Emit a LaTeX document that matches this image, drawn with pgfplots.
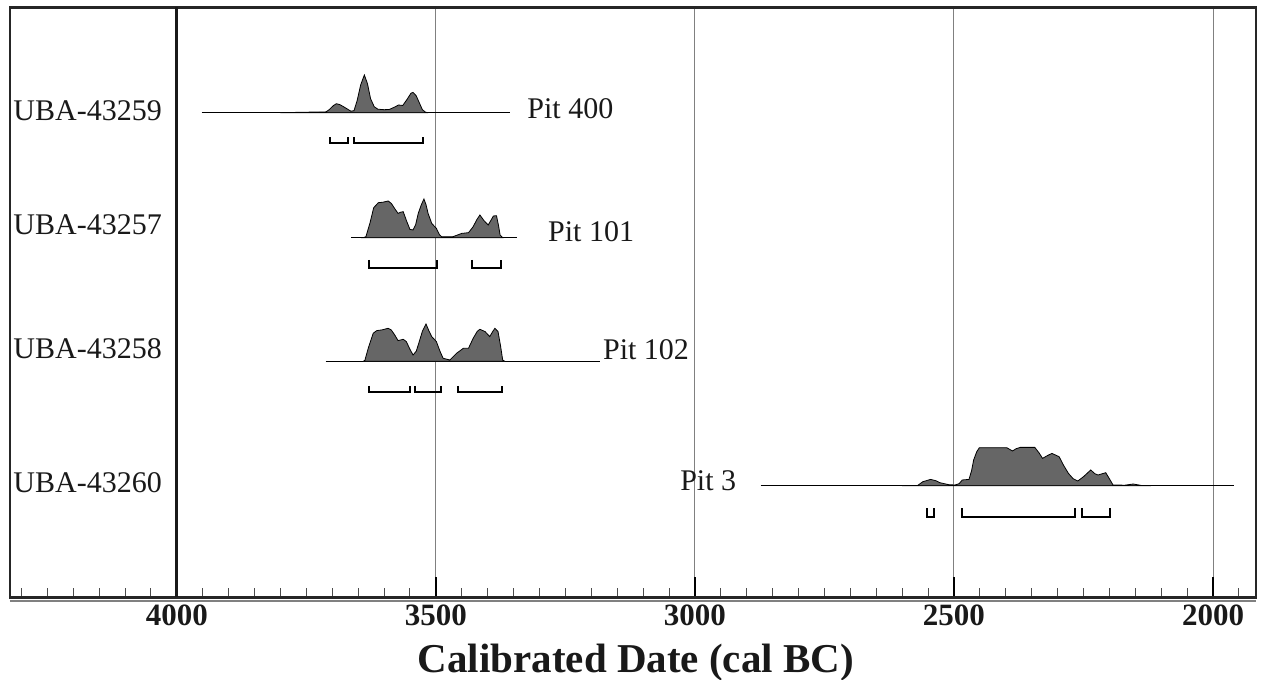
\documentclass[border=0pt]{standalone}
\usepackage{pgfplots}
\pgfplotsset{compat=1.18}
\usepackage{fontspec}
\setmainfont{Liberation Serif}
\definecolor{distgray}{HTML}{666666}
\definecolor{gridgray}{HTML}{808080}
\newcommand{\lab}{\fontsize{15}{16}\selectfont}
\begin{document}
\begin{tikzpicture}
\useasboundingbox (0,0) rectangle (630.5pt,339.5pt);
\begin{axis}[
  at={(5pt,40.75pt)}, anchor=south west,
  width=623pt, height=295pt, scale only axis,
  x dir=reverse, xmin=1917, xmax=4322, ymin=0, ymax=590,
  clip=false,
  ytick=\empty,
  xtick={2000,2500,3000,3500,4000},
  minor xtick={1950,2000,...,4300},
  xtick pos=bottom, tick align=inside,
  major tick length=10pt, minor tick length=4.5pt,
  major tick style={black, line width=0.7pt},
  minor tick style={black!70, line width=0.5pt},
  xmajorgrids, grid style={gridgray, line width=0.5pt},
  axis line style={draw=black!85, line width=1.1pt},
  /pgf/number format/assume math mode=true,
  /pgf/number format/set thousands separator={},
  xticklabel style={font=\bfseries\fontsize{15.5}{16}\selectfont, black!90},
]
% thick 4000 line
\addplot[black!90, line width=1.4pt] coordinates {(4000,0) (4000,590)};
% second bottom line
\addplot[gridgray, line width=0.7pt] coordinates {(4322,-3.5) (1917,-3.5)};

% ---- Row 1: UBA-43259 (baseline 484.8)
\addplot[black, line width=0.65pt] coordinates {(3952,484.8) (3357,484.8)};
\addplot[fill=distgray, draw=black, line width=0.4pt] table[y expr=\thisrow{h}+484.8] {
x h
3800 0
3750 0.5
3712 0.8
3706 3
3698 7
3692 9
3685 8
3675 5
3664 1.5
3658 2
3652 12
3645 28
3638 37.7
3632 29
3626 14
3619 6
3612 3.5
3600 3
3590 3.2
3580 5.5
3572 7.7
3564 7.2
3556 13
3548 19.5
3544 20.3
3538 17
3532 10
3526 3
3520 0.5
3515 0
} -- cycle;
\addplot[black, line width=1pt] coordinates {(3705,460.2) (3705,454.5) (3670,454.5) (3670,460.2)};
\addplot[black, line width=1pt] coordinates {(3658,460.2) (3658,454.5) (3525,454.5) (3525,460.2)};

% ---- Row 2: UBA-43257 (baseline 359.8)
\addplot[black, line width=0.65pt] coordinates {(3663,359.8) (3344,359.8)};
\addplot[fill=distgray, draw=black, line width=0.4pt] table[y expr=\thisrow{h}+359.8] {
x h
3640 0
3635 1
3627 15
3620 30
3611 35
3602 35.5
3592 36.7
3586 34.3
3578 28
3573 24.3
3568 25.5
3563 26
3556 16
3550 8.3
3544 7.7
3539 13
3534 24.3
3528 33
3523 38.7
3519 33
3515 24.3
3508 14.3
3499 9.3
3493 3
3489 1
3467 1
3450 4.3
3437 5
3428 11
3421 18
3415 22.7
3407 17
3399 12.7
3393 18
3389 21.7
3383 22
3379 12
3376 2.7
3371 0
} -- cycle;
\addplot[black, line width=1pt] coordinates {(3629,337.5) (3629,329.2) (3498,329.2) (3498,337.5)};
\addplot[black, line width=1pt] coordinates {(3430,337.5) (3430,329.2) (3375,329.2) (3375,337.5)};

% ---- Row 3: UBA-43258 (baseline 236.2)
\addplot[black, line width=0.65pt] coordinates {(3713,236.2) (3183,236.2)};
\addplot[fill=distgray, draw=black, line width=0.4pt] table[y expr=\thisrow{h}+236.2] {
x h
3640 0
3637 1
3630 14
3621 28
3614 30.7
3605 31.3
3592 33
3586 31.3
3579 26
3573 20.7
3563 22
3557 19.7
3550 12
3544 6.3
3538 10
3534 16.3
3526 30
3519 37.3
3513 30
3508 24.7
3499 19.7
3492 10
3486 3
3473 1.3
3460 8
3447 13
3437 13
3428 23
3420 30
3415 32
3405 29.7
3396 24.7
3390 30
3386 33
3380 29.7
3375 15
3371 1.3
3367 0
} -- cycle;
\addplot[black, line width=1pt] coordinates {(3629,211.5) (3629,205.8) (3549,205.8) (3549,211.5)};
\addplot[black, line width=1pt] coordinates {(3540,211.5) (3540,205.8) (3490,205.8) (3490,211.5)};
\addplot[black, line width=1pt] coordinates {(3458,211.5) (3458,205.8) (3373,205.8) (3373,211.5)};

% ---- Row 4: UBA-43260 (baseline 111.8)
\addplot[black, line width=0.65pt] coordinates {(2873,111.8) (1960,111.8)};
\addplot[fill=distgray, draw=black, line width=0.4pt] table[y expr=\thisrow{h}+111.8] {
x h
2600 0
2570 0.3
2560 4
2545 6.3
2535 5
2527 3
2510 1
2498 0.7
2490 2
2484 5.7
2471 6.3
2466 15
2462 25.7
2456 34
2451 38
2398 38
2387 34.7
2380 37
2372 38.3
2344 38.3
2336 33
2329 27.3
2320 30
2311 32.3
2297 29
2288 20
2279 12.3
2270 7
2261 4.7
2250 9
2236 15.7
2228 12
2222 10.7
2207 13
2200 7
2193 0.7
2170 0.5
2154 1.7
2139 0.3
2120 0
} -- cycle;
\addplot[black, line width=1pt] coordinates {(2552,89.2) (2552,80.8) (2538,80.8) (2538,89.2)};
\addplot[black, line width=1pt] coordinates {(2484,89.2) (2484,80.8) (2267,80.8) (2267,89.2)};
\addplot[black, line width=1pt] coordinates {(2252,89.2) (2252,80.8) (2198,80.8) (2198,89.2)};

% labels
\node[anchor=base west, inner sep=0pt, font=\lab, black!90] at (axis cs:4316,476.8) {UBA-43259};
\node[anchor=base west, inner sep=0pt, font=\lab, black!90] at (axis cs:4316,362.8) {UBA-43257};
\node[anchor=base west, inner sep=0pt, font=\lab, black!90] at (axis cs:4316,239.2) {UBA-43258};
\node[anchor=base west, inner sep=0pt, font=\lab, black!90] at (axis cs:4316,105.2) {UBA-43260};
\node[anchor=base west, inner sep=0pt, font=\lab, black!90] at (axis cs:3324,479.2) {Pit 400};
\node[anchor=base west, inner sep=0pt, font=\lab, black!90] at (axis cs:3284,355.8) {Pit 101};
\node[anchor=base west, inner sep=0pt, font=\lab, black!90] at (axis cs:3178,237.5) {Pit 102};
\node[anchor=base west, inner sep=0pt, font=\lab, black!90] at (axis cs:3029,106.5) {Pit 3};
\node[anchor=base, inner sep=0pt, font=\bfseries\fontsize{20.5}{22}\selectfont, black!90] at (axis cs:3114,-74.5) {Calibrated Date (cal BC)};
\end{axis}
\end{tikzpicture}
\end{document}
